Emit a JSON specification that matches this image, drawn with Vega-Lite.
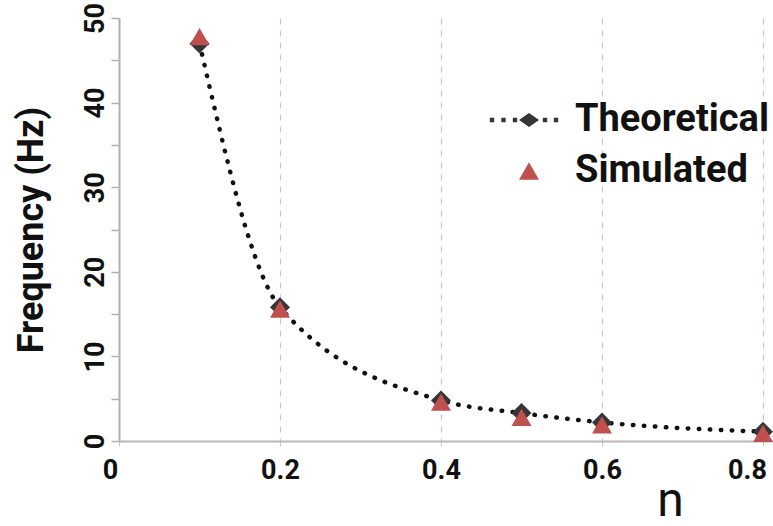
{
  "$schema": "https://vega.github.io/schema/vega-lite/v6.json",
  "width": 654,
  "height": 423,
  "autosize": {"type": "none"},
  "padding": {"left": 119, "top": 18, "right": 0, "bottom": 85},
  "background": "white",
  "config": {
    "view": {"stroke": null},
    "font": "Roboto",
    "legend": {
      "title": null,
      "orient": "none",
      "padding": 0,
      "symbolSize": 400,
      "symbolStrokeWidth": 0,
      "symbolOffset": 0,
      "symbolOpacity": 1,
      "labelOffset": 27,
      "labelFont": "Roboto",
      "labelFontSize": 38,
      "labelFontWeight": "bold",
      "labelColor": "#111111",
      "labelLimit": 400
    }
  },
  "data": {
    "values": [
      {"n": 0.1, "freq": 47.0, "series": "Theoretical"},
      {"n": 0.2, "freq": 15.8, "series": "Theoretical"},
      {"n": 0.4, "freq": 4.8, "series": "Theoretical"},
      {"n": 0.5, "freq": 3.3, "series": "Theoretical"},
      {"n": 0.6, "freq": 2.2, "series": "Theoretical"},
      {"n": 0.8, "freq": 1.1, "series": "Theoretical"},
      {"n": 0.1, "freq": 47.8, "series": "Simulated"},
      {"n": 0.2, "freq": 15.6, "series": "Simulated"},
      {"n": 0.4, "freq": 4.6, "series": "Simulated"},
      {"n": 0.5, "freq": 2.8, "series": "Simulated"},
      {"n": 0.6, "freq": 1.9, "series": "Simulated"},
      {"n": 0.8, "freq": 0.9, "series": "Simulated"}
    ]
  },
  "encoding": {
    "x": {
      "field": "n",
      "type": "quantitative",
      "scale": {"domain": [0, 0.8124], "nice": false, "zero": false},
      "axis": {
        "values": [0, 0.2, 0.4, 0.6, 0.8],
        "title": "n",
        "titleFont": "Roboto",
        "titleFontSize": 48,
        "titleFontWeight": "normal",
        "titleColor": "#111111",
        "titleAlign": "center",
        "titleAnchor": null,
        "titleX": 551,
        "titleY": 84,
        "titleBaseline": "bottom",
        "labelFont": "Roboto",
        "labelFontSize": 27,
        "labelFontWeight": "bold",
        "labelColor": "#111111",
        "labelPadding": 11,
        "labelFlush": false,
        "labelOffset": {
          "condition": [
            {"test": "datum.value === 0", "value": -9},
            {"test": "datum.value > 0.75", "value": -16}
          ],
          "value": 0
        },
        "labelExpr": "datum.value === 0 ? '0' : format(datum.value, '.1f')",
        "domainColor": "#b8b8b8",
        "domainWidth": 2,
        "tickColor": "#c8c8c8",
        "tickSize": 5,
        "tickWidth": 1,
        "grid": true,
        "gridColor": "#b4c8e8",
        "gridDash": [6, 6],
        "gridWidth": 1.2
      }
    },
    "y": {
      "field": "freq",
      "type": "quantitative",
      "scale": {"domain": [0, 50], "nice": false},
      "axis": {
        "values": [0, 5, 10, 15, 20, 25, 30, 35, 40, 45, 50],
        "labelExpr": "datum.value % 10 === 0 ? datum.label : ''",
        "title": "Frequency (Hz)",
        "titleFont": "Roboto",
        "titleFontSize": 36,
        "titleFontWeight": "bold",
        "titleColor": "#111111",
        "titleAngle": -90,
        "titleAlign": "center",
        "titleBaseline": "middle",
        "titleX": -88,
        "titleY": 211.5,
        "labelFont": "Roboto",
        "labelFontSize": 27,
        "labelFontWeight": "bold",
        "labelColor": "#111111",
        "labelAngle": -90,
        "labelAlign": "center",
        "labelBaseline": "alphabetic",
        "labelPadding": 8,
        "labelFlush": false,
        "domainColor": "#b0b0b0",
        "domainWidth": 2,
        "tickColor": "#b0b0b0",
        "tickSize": 8,
        "tickWidth": 1.5,
        "grid": false
      }
    }
  },
  "layer": [
    {
      "transform": [{"filter": "datum.series === 'Theoretical'"}],
      "mark": {
        "type": "line",
        "interpolate": "monotone",
        "color": "#111111",
        "strokeWidth": 4.5,
        "strokeCap": "round",
        "strokeDash": [0.5, 10.5]
      }
    },
    {
      "transform": [{"filter": "datum.series === 'Theoretical'"}],
      "mark": {"type": "point", "filled": true, "opacity": 1, "size": 400, "shape": "diamond"},
      "encoding": {
        "color": {
          "field": "series",
          "type": "nominal",
          "scale": {"domain": ["Theoretical"], "range": ["#363636"]},
          "legend": {
            "legendX": 391,
            "legendY": 83,
            "symbolType": "M-3.92,-0.22h0.44v0.44h-0.44Z M-2.77,-0.22h0.44v0.44h-0.44Z M-1.62,-0.22h0.44v0.44h-0.44Z M1.38,-0.22h0.44v0.44h-0.44Z M2.48,-0.22h0.44v0.44h-0.44Z M-1,0L0,-0.7L1,0L0,0.7Z",
            "symbolFillColor": "#3a3a3a"
          }
        }
      }
    },
    {
      "transform": [{"filter": "datum.series === 'Simulated'"}],
      "mark": {"type": "point", "filled": true, "opacity": 1, "size": 400, "color": "#c0504d"},
      "encoding": {
        "shape": {
          "field": "series",
          "type": "nominal",
          "scale": {"domain": ["Simulated"], "range": ["triangle-up"]},
          "legend": {
            "legendX": 391,
            "legendY": 134,
            "symbolFillColor": "#c0504d"
          }
        }
      }
    }
  ]
}
